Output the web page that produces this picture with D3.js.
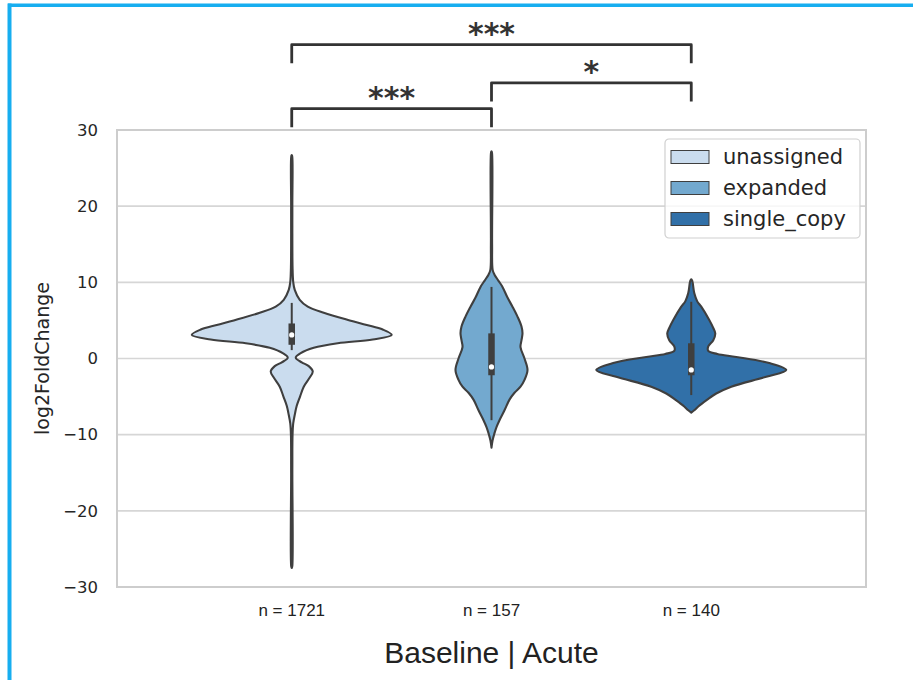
<!DOCTYPE html>
<html>
<head>
<meta charset="utf-8">
<script src="https://cdn.jsdelivr.net/npm/d3@7"></script>
<style>
  body { margin: 0; background: #fff; }
  svg { display: block; }
</style>
</head>
<body>
<svg></svg>
<script>
/* data */
var groups = ['unassigned', 'expanded', 'single_copy'];
var counts = [1721, 157, 140];
var colors = ['#cadcee', '#73a9cf', '#3170a8'];
var hueOffsets = [-0.2667, 0, 0.2667];   // dodge position inside the single category
var yTicks = [30, 20, 10, 0, -10, -20, -30];

// violin outlines: [log2FoldChange, relative density]
var unassignedDens = [
  [26.7, 0], [26.5, 0.005], [20, 0.006], [12, 0.008], [10, 0.015], [9, 0.03],
  [7.7, 0.08], [6.8, 0.16], [6.0, 0.32], [5.0, 0.58], [4.4, 0.75], [3.8, 0.91],
  [3.1, 1.0], [2.5, 0.81], [2.0, 0.46], [1.4, 0.22], [0.7, 0.09], [0.1, 0.04],
  [-0.5, 0.1], [-1.0, 0.17], [-1.7, 0.21], [-2.5, 0.18], [-3.7, 0.12],
  [-5.0, 0.083], [-6.2, 0.05], [-7.2, 0.033], [-8.5, 0.015], [-10, 0.008],
  [-15, 0.006], [-27.3, 0.005], [-27.5, 0]
];
var expandedDens = [
  [27.2, 0], [27.0, 0.005], [15, 0.006], [11.6, 0.012], [11, 0.03], [10.2, 0.07],
  [9.4, 0.11], [8.0, 0.16], [6.8, 0.21], [5.5, 0.26], [4.2, 0.3], [3.3, 0.31],
  [2.4, 0.3], [1.5, 0.29], [0.0, 0.33], [-1.5, 0.36], [-2.8, 0.33], [-3.7, 0.29],
  [-4.5, 0.23], [-5.4, 0.18], [-6.8, 0.13], [-8.1, 0.08], [-9.0, 0.05],
  [-9.8, 0.03], [-10.8, 0.01], [-11.7, 0]
];
var singleCopyDens = [
  [10.4, 0], [10.2, 0.01], [8.6, 0.03], [7.5, 0.06], [6.8, 0.1], [5.05, 0.18],
  [4.0, 0.22], [3.3, 0.24], [2.4, 0.22], [1.6, 0.17], [1.0, 0.17], [0.6, 0.26],
  [0.2, 0.45], [-0.6, 0.78], [-1.5, 0.95], [-2.4, 0.75], [-3.7, 0.4],
  [-4.6, 0.25], [-5.4, 0.16], [-6.3, 0.07], [-6.8, 0.03], [-7.1, 0]
];
var densities = [unassignedDens, expandedDens, singleCopyDens];

// inner box: [lower whisker, q1, median, q3, upper whisker]
var boxStats = [
  [1.1, 1.8, 3.1, 4.6, 7.3],
  [-8.1, -2.2, -1.1, 3.3, 9.4],
  [-4.8, -2.2, -1.5, 2.0, 7.45]
];

// significance brackets
var pairs = [[0, 1], [1, 2], [0, 2]];
var pairLabels = ['***', '*', '***'];
var pairLevels = [32.8, 36.2, 41.2];
var bracketDrop = 2.45;

/* svg setting */
var svgWidth = 913;
var svgHeight = 680;
var margin = {top: 130, right: 47, bottom: 93, left: 117};
var width = svgWidth - margin.left - margin.right;
var height = svgHeight - margin.top - margin.bottom;
var scale = {};
var ink = '#3f3f3f';
var textColor = '#262626';

var svg = d3.select('svg')
    .attr('width', svgWidth)
    .attr('height', svgHeight);

setScale();
drawFrame();
drawGrid();
drawViolins();
drawBrackets();
drawLegend();
drawLabels();

function setScale(){
  scale.x = d3.scaleLinear()
      .domain([-0.5, 0.5])
      .range([margin.left, margin.left + width]);
  scale.y = d3.scaleLinear()
      .domain([-30, 30])
      .range([margin.top + height, margin.top]);
  scale.w = d3.scaleLinear()
      .domain([0, 1])
      .range([0, 100]);
}

/* blue screenshot frame */
function drawFrame(){
  svg.append('rect')
      .attr('x', 8).attr('y', 3.5)
      .attr('width', svgWidth - 8).attr('height', 3.5)
      .attr('fill', '#17aef0');
  svg.append('rect')
      .attr('x', 7.5).attr('y', 3.5)
      .attr('width', 4).attr('height', svgHeight)
      .attr('fill', '#17aef0');
}

function drawGrid(){
  var g = svg.append('g').attr('class', 'grid');
  g.selectAll('line')
      .data(yTicks)
      .enter()
      .append('line')
      .attr('x1', margin.left).attr('x2', margin.left + width)
      .attr('y1', function(d){ return scale.y(d); })
      .attr('y2', function(d){ return scale.y(d); })
      .attr('stroke', '#d6d6d6')
      .attr('stroke-width', 1.6);

  // spines
  svg.append('rect')
      .attr('x', margin.left).attr('y', margin.top)
      .attr('width', width).attr('height', height)
      .attr('fill', 'none')
      .attr('stroke', '#cdcdcd')
      .attr('stroke-width', 2);

  var yAxis = d3.axisLeft(scale.y)
      .tickValues(yTicks)
      .tickSize(0)
      .tickPadding(19)
      .tickFormat(function(d){ return d < 0 ? '\u2212' + Math.abs(d) : d; });
  var ga = svg.append('g')
      .attr('transform', translate(margin.left, 0))
      .call(yAxis);
  ga.select('.domain').remove();
  ga.selectAll('text')
      .attr('font-family', 'DejaVu Sans')
      .attr('font-size', 16.5)
      .attr('fill', textColor);
}

function drawViolins(){
  groups.forEach(function(name, i){
    var cx = scale.x(hueOffsets[i]);
    var area = d3.area()
        .curve(d3.curveCatmullRom)
        .y(function(d){ return scale.y(d[0]); })
        .x0(function(d){ return cx - scale.w(d[1]); })
        .x1(function(d){ return cx + scale.w(d[1]); });

    var g = svg.append('g').attr('class', 'violin ' + name);
    g.append('path')
        .datum(densities[i])
        .attr('d', area)
        .attr('fill', colors[i])
        .attr('stroke', ink)
        .attr('stroke-width', 2.1)
        .attr('stroke-linejoin', 'round');

    var s = boxStats[i];
    g.append('line')
        .attr('x1', cx).attr('x2', cx)
        .attr('y1', scale.y(s[0])).attr('y2', scale.y(s[4]))
        .attr('stroke', ink).attr('stroke-width', 2);
    g.append('line')
        .attr('x1', cx).attr('x2', cx)
        .attr('y1', scale.y(s[1])).attr('y2', scale.y(s[3]))
        .attr('stroke', ink).attr('stroke-width', 6.5);
    g.append('circle')
        .attr('cx', cx).attr('cy', scale.y(s[2]))
        .attr('r', 2.6)
        .attr('fill', '#fff');
  });
}

function drawBrackets(){
  var g = svg.append('g').attr('class', 'brackets');
  pairs.forEach(function(p, i){
    var x1 = scale.x(hueOffsets[p[0]]);
    var x2 = scale.x(hueOffsets[p[1]]);
    var yTop = scale.y(pairLevels[i]);
    var yLow = scale.y(pairLevels[i] - bracketDrop);
    g.append('path')
        .attr('d', 'M' + x1 + ',' + yLow + 'L' + x1 + ',' + yTop +
                   'L' + x2 + ',' + yTop + 'L' + x2 + ',' + yLow)
        .attr('fill', 'none')
        .attr('stroke', '#333')
        .attr('stroke-width', 2.8)
        .attr('stroke-linejoin', 'round');
    g.append('text')
        .attr('x', (x1 + x2) / 2)
        .attr('y', yTop - 1)
        .attr('text-anchor', 'middle')
        .attr('font-family', 'DejaVu Sans')
        .attr('font-weight', 'bold')
        .attr('font-size', 30)
        .attr('fill', '#333')
        .text(pairLabels[i]);
  });
}

function drawLegend(){
  var lx = 665, ly = 139;
  var g = svg.append('g').attr('transform', translate(lx, ly));
  g.append('rect')
      .attr('width', 195).attr('height', 99)
      .attr('rx', 4)
      .attr('fill', '#fff').attr('fill-opacity', 0.8)
      .attr('stroke', '#d0d0d0').attr('stroke-width', 1.2);
  var rows = g.selectAll('.row')
      .data(groups)
      .enter()
      .append('g')
      .attr('class', 'row')
      .attr('transform', function(d, i){ return translate(6, 18 + i * 31); });
  rows.append('rect')
      .attr('x', 0).attr('y', -6.5)
      .attr('width', 38).attr('height', 13)
      .attr('fill', function(d, i){ return colors[i]; })
      .attr('stroke', ink).attr('stroke-width', 1);
  rows.append('text')
      .attr('x', 52).attr('dy', '0.35em')
      .attr('font-family', 'DejaVu Sans')
      .attr('font-size', 21)
      .attr('fill', textColor)
      .text(function(d){ return d; });
}

function drawLabels(){
  svg.selectAll('.nlabel')
      .data(counts)
      .enter()
      .append('text')
      .attr('class', 'nlabel')
      .attr('x', function(d, i){ return scale.x(hueOffsets[i]); })
      .attr('y', 616)
      .attr('text-anchor', 'middle')
      .attr('font-family', 'Liberation Sans')
      .attr('font-size', 17)
      .attr('fill', '#222')
      .text(function(d){ return 'n = ' + d; });

  svg.append('text')
      .attr('x', scale.x(0))
      .attr('y', 663)
      .attr('text-anchor', 'middle')
      .attr('font-family', 'Liberation Sans')
      .attr('font-size', 30)
      .attr('fill', '#222')
      .text('Baseline | Acute');

  svg.append('text')
      .attr('transform', translate(49, margin.top + height / 2) + ' rotate(-90)')
      .attr('text-anchor', 'middle')
      .attr('font-family', 'DejaVu Sans')
      .attr('font-size', 19)
      .attr('fill', textColor)
      .text('log2FoldChange');
}

function translate(x, y) {
  return 'translate(' + x + ',' + y + ')';
}
</script>
</body>
</html>
